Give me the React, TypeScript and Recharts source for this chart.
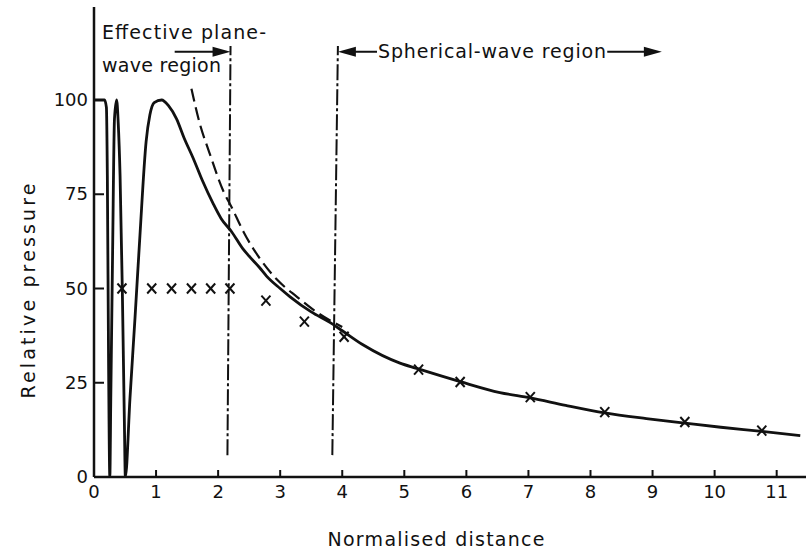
import { ComposedChart, Line, Scatter, XAxis, YAxis, ReferenceLine, ReferenceDot } from "recharts"

const INK = "#111"
const FONT = "'DejaVu Sans', sans-serif"

// exact on-axis pressure (solid curve)
const exactDistance = [
  0, 0.17, 0.2, 0.215, 0.235, 0.255, 0.27, 0.3, 0.33, 0.365, 0.39, 0.42, 0.456, 0.49, 0.505,
  0.58, 0.66, 0.74, 0.84, 0.9, 0.97, 1.09, 1.2, 1.33, 1.45, 1.6, 1.75, 1.92, 2.05, 2.22, 2.4,
  2.51, 2.67, 2.78, 3.0, 3.16, 3.5, 3.8, 4.0, 4.34, 4.93, 5.2, 5.9, 6.54, 7.03, 7.6, 8.23, 8.9,
  9.52, 10.1, 10.76, 11.38,
]
const exactPressure = [
  100, 100, 98, 80, 30, 0, 20, 60, 95, 100, 94, 80, 50, 14, 0,
  21, 42, 64, 89, 96, 99.3, 100, 98.5, 95, 90, 84.5, 78.5, 72.5, 68.5, 65, 60.5,
  58.4, 55.5, 53.3, 50, 47.8, 43.8, 41, 38.8, 35, 30.2, 28.8, 25.3, 22.4, 21, 19, 17, 15.5,
  14.3, 13.2, 12.1, 11,
]

// far-field approximation (dashed)
const farDistance = [1.57, 1.7, 1.86, 2.08, 2.22, 2.41, 2.67, 2.94, 3.27, 3.6, 4.0]
const farPressure = [103, 94, 86, 76, 71.5, 65, 58, 52.5, 47.8, 43.6, 39.8]

// measured points (crosses)
const measuredDistance = [0.45, 0.93, 1.25, 1.57, 1.88, 2.19, 2.77, 3.39, 4.03, 5.23, 5.9, 7.03, 8.23, 9.52, 10.76]
const measuredPressure = [50, 50, 50, 50, 50, 50, 46.8, 41.2, 37.2, 28.5, 25.2, 21.2, 17.2, 14.6, 12.3]

const xTicks = [0, 1, 2, 3, 4, 5, 6, 7, 8, 9, 10, 11]
const yTicks = [0, 25, 50, 75, 100]

// region limits and arrow level
const planeEdge = [2.15, 2.2]
const sphericalEdge = [3.84, 3.93]
const edgeSpan = [5.8, 114.3]
const arrowLevel = 112.8
const planeArrow = [1.3, 2.2]
const sphericalArrowLeft = [3.93, 4.56]
const sphericalArrowRight = [8.27, 9.15]

const zip = (xs: number[], ps: number[]) => xs.map((x, i) => ({ x, p: ps[i] }))
const exactData = zip(exactDistance, exactPressure)
const farData = zip(farDistance, farPressure)
const measuredData = zip(measuredDistance, measuredPressure)

const BottomTick = ({ x, y, payload }: any) => (
  <g>
    {payload.value > 0 && <line x1={x} y1={y} x2={x} y2={y - 7} stroke={INK} strokeWidth={2} />}
    <text x={x} y={y + 21} textAnchor="middle" fontSize={18} fontFamily={FONT} fill={INK}>
      {payload.value}
    </text>
  </g>
)

const TopTick = ({ x, y, payload }: any) =>
  payload.value > 0 ? <line x1={x} y1={y} x2={x} y2={y + 6} stroke={INK} strokeWidth={2} /> : <g />

const LeftTick = ({ x, y, payload }: any) => (
  <g>
    {payload.value > 0 && <line x1={x} y1={y} x2={x + 10} y2={y} stroke={INK} strokeWidth={2} />}
    <text x={x - 6} y={y} dy={6} textAnchor="end" fontSize={18} fontFamily={FONT} fill={INK}>
      {payload.value}
    </text>
  </g>
)

const RightTick = ({ x, y, payload }: any) =>
  payload.value > 0 ? <line x1={x} y1={y} x2={x - 9} y2={y} stroke={INK} strokeWidth={2} /> : <g />

const Cross = ({ cx, cy }: any) => (
  <g stroke={INK} strokeWidth={2}>
    <line x1={cx - 4.5} y1={cy - 5} x2={cx + 4.5} y2={cy + 5} />
    <line x1={cx - 4.5} y1={cy + 5} x2={cx + 4.5} y2={cy - 5} />
  </g>
)

const arrowHead = (dir: number) => ({ cx, cy }: any) => (
  <path d={`M${cx},${cy} L${cx - dir * 18},${cy - 5} L${cx - dir * 18},${cy + 5} Z`} fill={INK} />
)

const textStyle = { fontSize: 19, fontFamily: FONT, fill: INK, lengthAdjust: "spacing" as const }

export default function App() {
  return (
    <div style={{ position: "absolute", left: 0, top: 0, width: 806, height: 553, overflow: "hidden", background: "#fff" }}>
      <ComposedChart width={812} height={553} margin={{ top: 7, right: 1, bottom: 0, left: 0 }}>
        <XAxis
          xAxisId={0}
          type="number"
          dataKey="x"
          domain={[0, 11.553]}
          ticks={xTicks}
          allowDataOverflow
          height={76}
          tickSize={0}
          tickMargin={0}
          tickLine={false}
          tick={<BottomTick />}
          axisLine={{ stroke: INK, strokeWidth: 2.5 }}
        />
        <XAxis
          xAxisId="top"
          orientation="top"
          type="number"
          dataKey="x"
          domain={[0, 11.553]}
          ticks={xTicks}
          allowDataOverflow
          height={0}
          tickSize={0}
          tickMargin={0}
          tickLine={false}
          tick={<TopTick />}
          axisLine={{ stroke: INK, strokeWidth: 2 }}
        />
        <YAxis
          yAxisId={0}
          type="number"
          dataKey="p"
          domain={[0, 124.67]}
          ticks={yTicks}
          allowDataOverflow
          width={94}
          tickSize={0}
          tickMargin={0}
          tickLine={false}
          tick={<LeftTick />}
          axisLine={{ stroke: INK, strokeWidth: 2.5 }}
        />
        <YAxis
          yAxisId="right"
          orientation="right"
          type="number"
          domain={[0, 124.67]}
          ticks={yTicks}
          allowDataOverflow
          width={0}
          tickSize={0}
          tickMargin={0}
          tickLine={false}
          tick={<RightTick />}
          axisLine={{ stroke: INK, strokeWidth: 2 }}
        />

        <ReferenceLine
          segment={[{ x: planeEdge[0], y: edgeSpan[0] }, { x: planeEdge[1], y: edgeSpan[1] }]}
          stroke={INK}
          strokeWidth={2}
          strokeDasharray="16 3 3 3"
        />
        <ReferenceLine
          segment={[{ x: sphericalEdge[0], y: edgeSpan[0] }, { x: sphericalEdge[1], y: edgeSpan[1] }]}
          stroke={INK}
          strokeWidth={2}
          strokeDasharray="16 3 3 3"
        />
        <ReferenceLine
          segment={[{ x: planeArrow[0], y: arrowLevel }, { x: planeArrow[1] - 0.2, y: arrowLevel }]}
          stroke={INK}
          strokeWidth={2}
          ifOverflow="visible"
        />
        <ReferenceDot x={planeArrow[1]} y={arrowLevel} r={0} shape={arrowHead(1)} ifOverflow="visible" />
        <ReferenceLine
          segment={[{ x: sphericalArrowLeft[0] + 0.2, y: arrowLevel }, { x: sphericalArrowLeft[1], y: arrowLevel }]}
          stroke={INK}
          strokeWidth={2}
          ifOverflow="visible"
        />
        <ReferenceDot x={sphericalArrowLeft[0]} y={arrowLevel} r={0} shape={arrowHead(-1)} ifOverflow="visible" />
        <ReferenceLine
          segment={[{ x: sphericalArrowRight[0], y: arrowLevel }, { x: sphericalArrowRight[1] - 0.2, y: arrowLevel }]}
          stroke={INK}
          strokeWidth={2}
          ifOverflow="visible"
        />
        <ReferenceDot x={sphericalArrowRight[1]} y={arrowLevel} r={0} shape={arrowHead(1)} ifOverflow="visible" />

        <Line data={farData} dataKey="p" type="monotone" stroke={INK} strokeWidth={2.2} strokeDasharray="13 6" dot={false} isAnimationActive={false} />
        <Line data={exactData} dataKey="p" type="monotone" stroke={INK} strokeWidth={2.8} dot={false} isAnimationActive={false} />
        <Scatter data={measuredData} dataKey="p" shape={<Cross />} isAnimationActive={false} />

        <text x={102} y={39} textLength={164} {...textStyle}>Effective plane-</text>
        <text x={102} y={72} textLength={119} {...textStyle}>wave region</text>
        <text x={378} y={58} textLength={228} {...textStyle}>Spherical-wave region</text>
        <text
          x={28}
          y={291}
          textAnchor="middle"
          dominantBaseline="central"
          transform="rotate(-90, 28, 291)"
          textLength={215}
          {...textStyle}
        >
          Relative pressure
        </text>
        <text x={436} y={546} textAnchor="middle" textLength={217} {...textStyle}>Normalised distance</text>
      </ComposedChart>
    </div>
  )
}
